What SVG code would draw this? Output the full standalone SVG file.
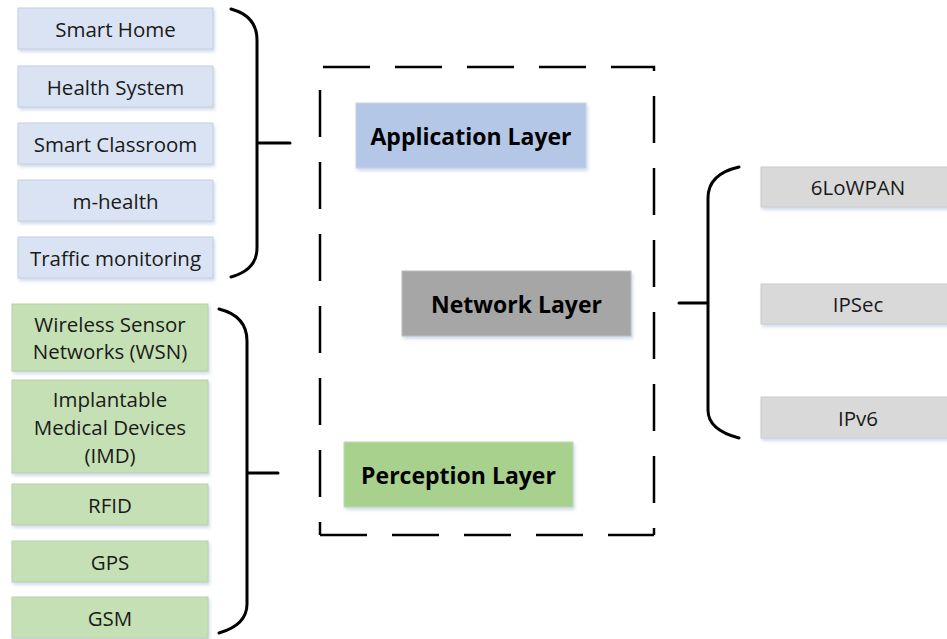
<svg xmlns="http://www.w3.org/2000/svg" width="947" height="639" viewBox="0 0 947 639">
<defs>
<filter id="sh" x="-10%" y="-10%" width="130%" height="140%">
<feDropShadow dx="1.5" dy="2.5" stdDeviation="1.5" flood-color="#9db4d8" flood-opacity="0.45"/>
</filter>
</defs>
<style>
.app{fill:#dae3f3;stroke:#c3cfe0;stroke-width:1}
.per{fill:#c5e0b4;stroke:#b9d0a8;stroke-width:1}
.net{fill:#d9d9d9;stroke:#cccccc;stroke-width:1}
.t{font-family:"Open Sans","Liberation Sans",sans-serif;font-size:20.5px;fill:#1a1a1a;text-anchor:middle;dominant-baseline:central}
.b{font-family:"Open Sans","Liberation Sans",sans-serif;font-size:23px;font-weight:bold;fill:#000;text-anchor:middle;dominant-baseline:central}
.br{fill:none;stroke:#000;stroke-width:3;stroke-linecap:round}
.dash{fill:none;stroke:#000;stroke-width:2.5;stroke-dasharray:47,25}
</style>
<rect x="0" y="0" width="947" height="639" fill="#fff"/>

<g id="container">
<path class="dash" d="M320,67 L654,67 L654,535" stroke-dashoffset="69"/>
<path class="dash" d="M320,90 L320,535"/>
<path class="dash" d="M320,535 L654,535"/>
</g>

<g id="application-layer"><rect x="356" y="103" width="230" height="65" fill="#b4c7e7" stroke="#c8d3e6" filter="url(#sh)"/><text class="b" x="471" y="136">Application Layer</text></g>
<g id="network-layer"><rect x="402" y="271" width="229" height="65" fill="#a6a6a6" stroke="#bdbdbd" filter="url(#sh)"/><text class="b" x="516.5" y="304">Network Layer</text></g>
<g id="perception-layer"><rect x="344" y="442" width="229" height="65" fill="#a9d18e" stroke="#c0d9ae" filter="url(#sh)"/><text class="b" x="458.5" y="475">Perception Layer</text></g>

<g id="smart-home"><rect class="app" x="18" y="8" width="195" height="41" filter="url(#sh)"/><text class="t" x="115.5" y="28.5">Smart Home</text></g>
<g id="health-system"><rect class="app" x="18" y="66" width="195" height="41" filter="url(#sh)"/><text class="t" x="115.5" y="86.5">Health System</text></g>
<g id="smart-classroom"><rect class="app" x="18" y="123" width="195" height="41" filter="url(#sh)"/><text class="t" x="115.5" y="143.5">Smart Classroom</text></g>
<g id="m-health"><rect class="app" x="18" y="180" width="195" height="41" filter="url(#sh)"/><text class="t" x="115.5" y="200.5">m-health</text></g>
<g id="traffic-monitoring"><rect class="app" x="18" y="237" width="195" height="41" filter="url(#sh)"/><text class="t" x="115.5" y="257.5">Traffic monitoring</text></g>

<g id="wsn"><rect class="per" x="12" y="304" width="196" height="67" filter="url(#sh)"/><text class="t" x="110" y="324">Wireless Sensor</text><text class="t" x="110" y="351">Networks (WSN)</text></g>
<g id="imd"><rect class="per" x="12" y="380" width="196" height="93" filter="url(#sh)"/><text class="t" x="110" y="399">Implantable</text><text class="t" x="110" y="427">Medical Devices</text><text class="t" x="110" y="455">(IMD)</text></g>
<g id="rfid"><rect class="per" x="12" y="484" width="196" height="41" filter="url(#sh)"/><text class="t" x="110" y="504.5">RFID</text></g>
<g id="gps"><rect class="per" x="12" y="541" width="196" height="41" filter="url(#sh)"/><text class="t" x="110" y="561.5">GPS</text></g>
<g id="gsm"><rect class="per" x="12" y="597" width="196" height="41" filter="url(#sh)"/><text class="t" x="110" y="618">GSM</text></g>

<g id="6lowpan"><rect class="net" x="761" y="167" width="196" height="40" filter="url(#sh)"/><text class="t" x="858" y="187">6LoWPAN</text></g>
<g id="ipsec"><rect class="net" x="761" y="284" width="196" height="40" filter="url(#sh)"/><text class="t" x="858" y="304">IPSec</text></g>
<g id="ipv6"><rect class="net" x="761" y="397" width="196" height="41" filter="url(#sh)"/><text class="t" x="858" y="417.5">IPv6</text></g>

<g id="connectors">
<path class="br" d="M231,9 Q257,16 257,40 L257,248 Q257,270 231,277 M257,143 L290,143"/>
<path class="br" d="M219,309 Q247,316 247,341 L247,604 Q247,625 219,633 M247,473 L278,473"/>
<path class="br" d="M739,167 Q708,174 708,198 L708,410 Q708,430 739,438 M679,303 L708,303"/>
</g>
</svg>
